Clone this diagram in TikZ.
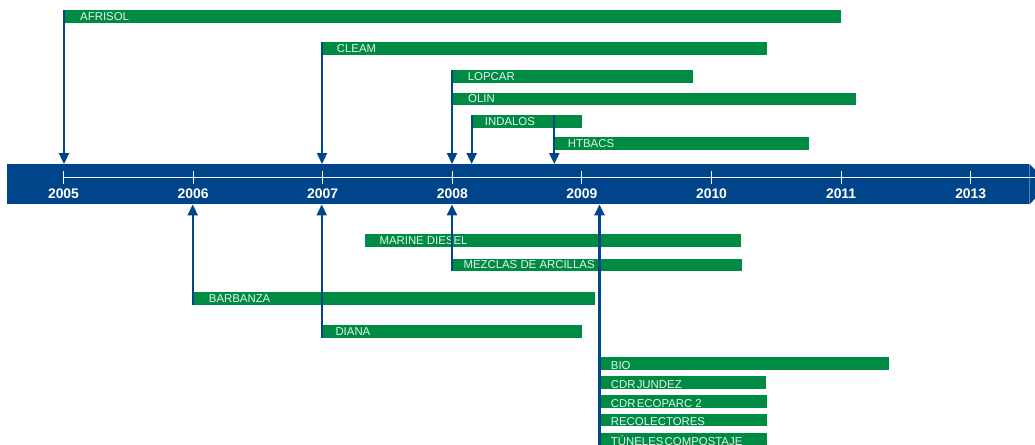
\documentclass[tikz,border=0pt]{standalone}
\usepackage{fontspec}
\setmainfont{Liberation Sans}
\usetikzlibrary{arrows.meta}
\definecolor{tlblue}{RGB}{0,68,137}
\definecolor{tlgreen}{RGB}{0,139,69}
\definecolor{bartext}{RGB}{228,244,233}
\begin{document}
\begin{tikzpicture}[x=1pt,y=-1pt,
  bar/.style={fill=tlgreen, anchor=north west, inner sep=0pt, minimum height=12.7pt,
    text=bartext, font=\fontsize{11.4}{12}\selectfont, text height=8pt, text depth=0pt},
  lowbar/.style={bar, text height=11pt, text depth=0pt},
  conn/.style={draw=tlblue, line width=2.3pt, -{Triangle[width=10pt,length=11pt]}},
  yearlabel/.style={text=white, font=\bfseries\fontsize{13.9}{15}\selectfont, inner sep=0pt},
  yeartick/.style={draw=white, line width=0.9pt},
  bandbox/.style={fill=tlblue, inner sep=0pt, minimum width=1022pt, minimum height=40pt, anchor=north west}]
\path[use as bounding box] (0,0) rectangle (1035,444);
\clip (0,0) rectangle (1035,444);

% timeline band
\node[bandbox] (band) at (7,164) {};
\fill[tlblue] (band.north east) -- ++(20,20) -- (band.south east) -- cycle;
\draw[yeartick] (63.5,177) -- (1035,177);
\foreach \i/\yr in {0/2005,1/2006,2/2007,3/2008,4/2009,5/2010,6/2011,7/2013}{
  \draw[yeartick] ({63.5+129.6*\i},171) -- ({63.5+129.6*\i},184);
  \node[yearlabel] (y\yr) at ({63.5+129.6*\i},194) {\yr};
}

% bars above
\node[bar] (afrisol) at (64,10) {\makebox[777pt][l]{\hspace{16pt}AFRISOL}};
\node[bar] (cleam) at (322,42.3) {\makebox[445pt][l]{\hspace{14.7pt}CLEAM}};
\node[bar] (lopcar) at (452,70) {\makebox[240.7pt][l]{\hspace{15.7pt}LOPCAR}};
\node[bar] (olin) at (452,92.3) {\makebox[404pt][l]{\hspace{16pt}OLIN}};
\node[bar] (indalos) at (471.7,115) {\makebox[110pt][l]{\hspace{13pt}INDALOS}};
\node[bar] (htbacs) at (554.3,137) {\makebox[254.4pt][l]{\hspace{13.4pt}HTBACS}};

% bars below
\node[bar] (marine) at (365,234) {\makebox[375.7pt][l]{\hspace{14.3pt}MARINE DIESEL}};
\node[bar] (mezclas) at (452,258.3) {\makebox[290pt][l]{\hspace{11.3pt}MEZCLAS DE ARCILLAS}};
\node[bar] (barbanza) at (192.7,292) {\makebox[402.3pt][l]{\hspace{16pt}BARBANZA}};
\node[bar] (diana) at (321.7,325) {\makebox[260.3pt][l]{\hspace{13.6pt}DIANA}};
\node[lowbar] (bio) at (599.5,357) {\makebox[289.5pt][l]{\hspace{11.2pt}BIO}};
\node[lowbar] (jundez) at (599.5,376) {\makebox[166.2pt][l]{\hspace{11.2pt}CDR\hspace{1.2pt}JUNDEZ}};
\node[lowbar] (ecoparc) at (599.5,395) {\makebox[167.5pt][l]{\hspace{11.2pt}CDR\hspace{1.2pt}ECOPARC 2}};
\node[lowbar] (recolectores) at (599.5,413.3) {\makebox[167.5pt][l]{\hspace{11.2pt}RECOLECTORES}};
\node[lowbar] (tuneles) at (599.5,433) {\makebox[167.5pt][l]{\hspace{11.2pt}TÚNELES\hspace{1.2pt}COMPOSTAJE}};

% connectors above
\draw[conn] (afrisol.north west) -- (afrisol.north west |- band.north);
\draw[conn] (cleam.north west) -- (cleam.north west |- band.north);
\draw[conn] (lopcar.north west) -- (lopcar.north west |- band.north);
\draw[conn] (indalos.north west) -- (indalos.north west |- band.north);
\draw[conn] (htbacs.west |- indalos.north) -- (htbacs.west |- band.north);

% connectors below
\coordinate (bottom2009) at (599.5,450);
\draw[conn] (barbanza.south west) -- (barbanza.south west |- band.south);
\draw[conn] (diana.south west) -- (diana.south west |- band.south);
\draw[conn] (mezclas.south west) -- (mezclas.south west |- band.south);
\draw[conn] (bottom2009) -- (bottom2009 |- band.south);
\end{tikzpicture}
\end{document}
